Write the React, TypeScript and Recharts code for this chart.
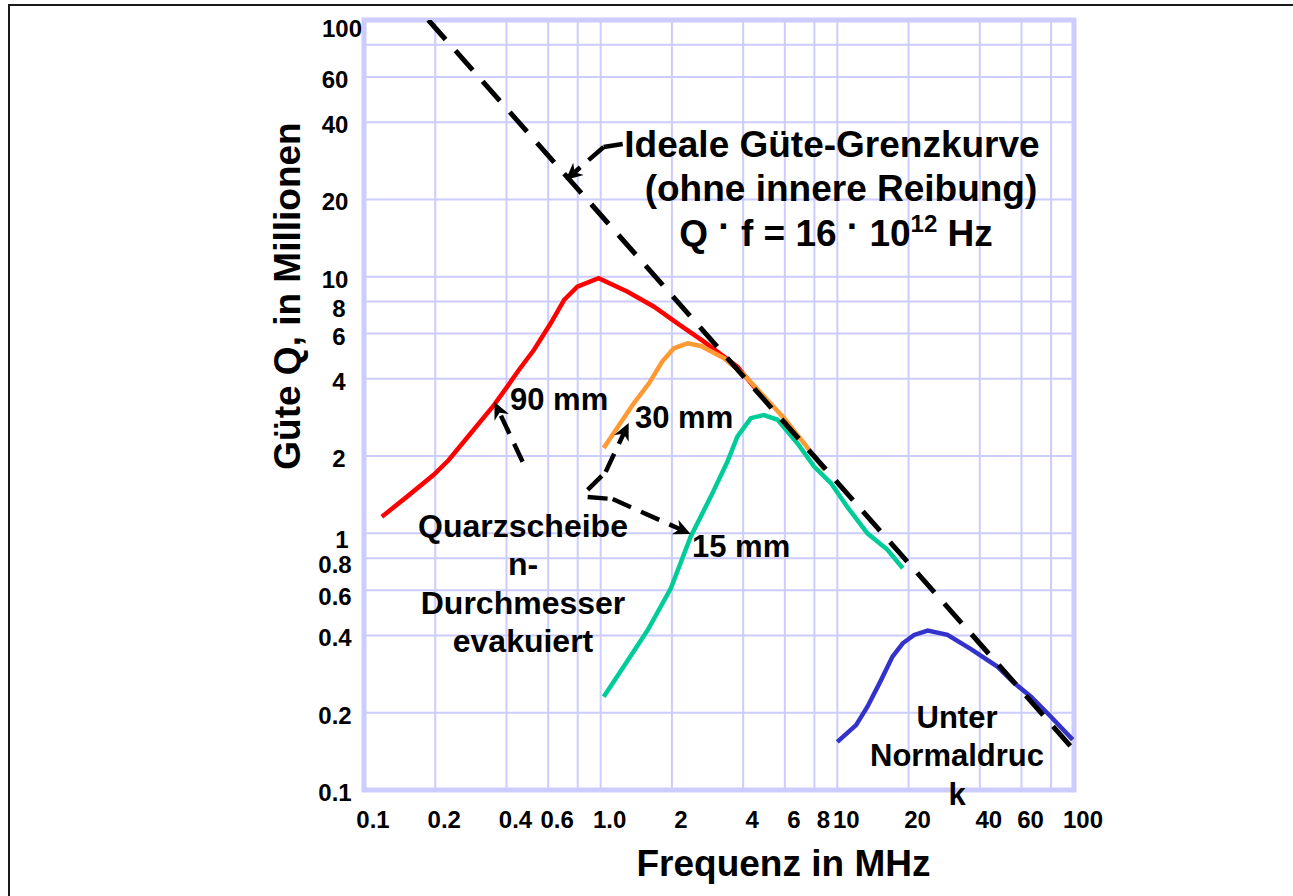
import React from 'react';
import { LineChart, Line, XAxis, YAxis, CartesianGrid, ReferenceArea, ReferenceLine } from 'recharts';

// Axis ticks
const freqTicks = [0.1, 0.2, 0.4, 0.6, 0.8, 1, 2, 4, 6, 8, 10, 20, 40, 60, 80, 100];
const freqTickLabels = ['0.1', '0.2', '0.4', '0.6', '', '1.0', '2', '4', '6', '8', '10', '20', '40', '60', '', '100'];
const qTicks = [0.1, 0.2, 0.4, 0.6, 0.8, 1, 2, 4, 6, 8, 10, 20, 40, 60, 80, 100];
const qTickLabels = ['0.1', '0.2', '0.4', '0.6', '0.8', '1', '2', '4', '6', '8', '10', '20', '40', '60', '', '100'];

// 90 mm (red)
const red90F = [0.119, 0.152, 0.197, 0.228, 0.282, 0.354, 0.403, 0.451, 0.522, 0.615, 0.70, 0.797, 0.98, 1.30, 1.68, 2.11, 2.73, 3.78, 4.75];
const red90Q = [1.16, 1.39, 1.69, 1.93, 2.45, 3.16, 3.73, 4.33, 5.18, 6.58, 8.11, 9.14, 9.86, 8.74, 7.64, 6.58, 5.58, 4.46, 3.46];
// 30 mm (orange)
const orange30F = [1.03, 1.16, 1.38, 1.60, 1.82, 2.04, 2.33, 2.65, 3.32, 4.04, 4.90, 5.96, 7.24, 8.80];
const orange30Q = [2.15, 2.53, 3.21, 3.84, 4.67, 5.26, 5.50, 5.37, 4.81, 4.14, 3.41, 2.81, 2.24, 1.77];
// 15 mm (green)
const green15F = [1.03, 1.25, 1.58, 1.98, 2.40, 2.92, 3.43, 3.78, 4.31, 4.90, 5.59, 6.79, 7.98, 9.39, 11.0, 13.4, 16.3, 18.9];
const green15Q = [0.231, 0.302, 0.42, 0.611, 0.971, 1.39, 1.90, 2.38, 2.81, 2.89, 2.77, 2.24, 1.82, 1.57, 1.27, 1.00, 0.862, 0.731];
// Unter Normaldruck (blue)
const normalF = [10.0, 12.0, 13.4, 15.3, 17.1, 18.9, 21.1, 24.1, 29.2, 36.7, 47.6, 55.9, 65.8, 79.9, 98.7];
const normalQ = [0.154, 0.179, 0.211, 0.268, 0.331, 0.373, 0.402, 0.418, 0.402, 0.354, 0.302, 0.261, 0.231, 0.193, 0.157];
// Ideal limit (dashed)
const idealF = [0.187, 100];
const idealQ = [100, 0.143];

// Annotation arrows (data coordinates), last point = arrow tip
const arrow90 = [[0.468, 1.90], [0.356, 3.25]];
const arrow30 = [[0.881, 1.476], [1.05, 1.735], [1.313, 2.69]];
const arrow15 = [[0.881, 1.386], [1.124, 1.36], [2.40, 0.995]];
const arrowIdeal = [[1.239, 32.9], [1.03, 32.0], [0.711, 23.8]];

const zip = (f: number[], q: number[]) => f.map((v, i) => ({ f: v, q: q[i] }));
const red90 = zip(red90F, red90Q);
const orange30 = zip(orange30F, orange30Q);
const green15 = zip(green15F, green15Q);
const normal = zip(normalF, normalQ);
const ideal = zip(idealF, idealQ);

const FONT = '"Liberation Sans", Arial, Helvetica, sans-serif';

const XTick = (props: any) => {
  const { x, y, payload } = props;
  const idx = freqTicks.indexOf(payload.value);
  const label = idx >= 0 ? freqTickLabels[idx] : '';
  return (
    <text x={x + 9} y={y} dy={38} textAnchor="middle" fontFamily={FONT} fontWeight="bold" fontSize={24} fill="#000">
      {label}
    </text>
  );
};

const YTick = (props: any) => {
  const { x, y, payload } = props;
  const v = payload.value;
  const idx = qTicks.indexOf(v);
  const label = idx >= 0 ? qTickLabels[idx] : '';
  let dy = 11;
  if (v === 100) dy = 17;
  if (v === 8 || v === 0.8 || v === 0.6 || v === 1) dy = 15;
  let cx = x - 29;
  if (label.length === 1) cx = x - 25;
  if (v === 1 || v === 100) cx = x - 22;
  return (
    <text x={cx} y={y} dy={dy} textAnchor="middle" fontFamily={FONT} fontWeight="bold" fontSize={24} fill="#000">
      {label}
    </text>
  );
};

const segCoords = (p: any) => {
  const x1 = p.x1 ?? p.points?.[0]?.x;
  const y1 = p.y1 ?? p.points?.[0]?.y;
  const x2 = p.x2 ?? p.points?.[1]?.x;
  const y2 = p.y2 ?? p.points?.[1]?.y;
  return { x1, y1, x2, y2 };
};

const DashSeg = (p: any) => {
  const { x1, y1, x2, y2 } = segCoords(p);
  return <line x1={x1} y1={y1} x2={x2} y2={y2} stroke="#000" strokeWidth={4.5} strokeDasharray="20 11" />;
};

const ArrowSeg = (p: any) => {
  const { x1, y1, x2, y2 } = segCoords(p);
  const dx = x2 - x1;
  const dy = y2 - y1;
  const len = Math.hypot(dx, dy) || 1;
  const ux = dx / len;
  const uy = dy / len;
  const hl = 17;
  const hw = 8;
  const bx = x2 - ux * hl;
  const by = y2 - uy * hl;
  const nx = x2 - ux * (hl * 0.7);
  const ny = y2 - uy * (hl * 0.7);
  const px = -uy;
  const py = ux;
  return (
    <g>
      <line x1={x1} y1={y1} x2={nx} y2={ny} stroke="#000" strokeWidth={4.5} strokeDasharray="20 11" />
      <polygon
        points={`${x2},${y2} ${bx + px * hw},${by + py * hw} ${nx},${ny} ${bx - px * hw},${by - py * hw}`}
        fill="#000"
      />
    </g>
  );
};

const arrowLines = (pts: number[][], key: string) =>
  pts.slice(0, -1).map((pt, i) => {
    const nxt = pts[i + 1];
    const last = i === pts.length - 2;
    return (
      <ReferenceLine
        key={`${key}-${i}`}
        segment={[{ x: pt[0], y: pt[1] }, { x: nxt[0], y: nxt[1] }]}
        ifOverflow="visible"
        stroke="#000"
        shape={last ? ArrowSeg : DashSeg}
      />
    );
  });

const txt = { fontFamily: FONT, fontWeight: 'bold' as const, fill: '#000' };

export default function App() {
  return (
    <div style={{ position: 'absolute', left: 0, top: 0, width: 1293, height: 896, background: '#fff', overflow: 'hidden' }}>
      <div
        style={{
          position: 'absolute',
          left: 8,
          top: 4,
          width: 1320,
          height: 920,
          borderTop: '2px solid #1a1a1a',
          borderLeft: '2px solid #1a1a1a',
        }}
      />
      <div style={{ position: 'absolute', left: 0, top: 0 }}>
        <LineChart width={1293} height={896} margin={{ top: 20, right: 219, bottom: 46, left: 0 }}>
          <CartesianGrid stroke="#CCCCFF" strokeWidth={2} />
          <XAxis
            dataKey="f"
            type="number"
            scale="log"
            domain={[0.1, 100]}
            ticks={freqTicks}
            interval={0}
            allowDataOverflow
            axisLine={false}
            tickLine={false}
            tickSize={0}
            tickMargin={0}
            height={60}
            tick={<XTick />}
          />
          <YAxis
            dataKey="q"
            type="number"
            scale="log"
            domain={[0.1, 100]}
            ticks={qTicks}
            interval={0}
            allowDataOverflow
            axisLine={false}
            tickLine={false}
            tickSize={0}
            tickMargin={0}
            width={364}
            tick={<YTick />}
          />
          <ReferenceArea x1={0.1} x2={100} y1={0.1} y2={100} fill="none" stroke="#CCCCFF" strokeWidth={5} fillOpacity={0} />
          <Line data={red90} dataKey="q" stroke="#FF0000" strokeWidth={4.5} dot={false} isAnimationActive={false} type="linear" />
          <Line data={green15} dataKey="q" stroke="#00CC99" strokeWidth={4.5} dot={false} isAnimationActive={false} type="linear" />
          <Line data={orange30} dataKey="q" stroke="#FF9933" strokeWidth={4.5} dot={false} isAnimationActive={false} type="linear" />
          <Line data={normal} dataKey="q" stroke="#3333CC" strokeWidth={4.5} dot={false} isAnimationActive={false} type="linear" />
          <Line
            data={ideal}
            dataKey="q"
            stroke="#000"
            strokeWidth={5}
            strokeDasharray="26 15"
            dot={false}
            isAnimationActive={false}
            type="linear"
          />
          {arrowLines(arrow90, 'a90')}
          {arrowLines(arrow30, 'a30')}
          {arrowLines(arrow15, 'a15')}
          {arrowLines(arrowIdeal, 'aid')}
        </LineChart>
      </div>
      <svg width={1293} height={896} style={{ position: 'absolute', left: 0, top: 0, pointerEvents: 'none' }}>
        <text {...txt} fontSize={37} textAnchor="middle" transform="translate(300,296) rotate(-90)">
          Güte Q, in Millionen
        </text>
        <text {...txt} fontSize={37} textAnchor="middle" x={783.5} y={876}>
          Frequenz in MHz
        </text>
        <text {...txt} fontSize={37} textAnchor="middle" x={832} y={157}>
          Ideale Güte-Grenzkurve
        </text>
        <text {...txt} fontSize={37} textAnchor="middle" x={841} y={201}>
          (ohne innere Reibung)
        </text>
        <text {...txt} fontSize={37} textAnchor="middle" x={836} y={246}>
          <tspan>Q </tspan>
          <tspan dy={-7}>·</tspan>
          <tspan dy={7}> f = 16 </tspan>
          <tspan dy={-7}>·</tspan>
          <tspan dy={7}> 10</tspan>
          <tspan dy={-14} fontSize={24}>12</tspan>
          <tspan dy={14}> Hz</tspan>
        </text>
        <text {...txt} fontSize={31} x={510} y={410}>90 mm</text>
        <text {...txt} fontSize={31} x={635} y={428}>30 mm</text>
        <text {...txt} fontSize={31} x={692} y={557}>15 mm</text>
        <text {...txt} fontSize={32} textAnchor="middle" x={523} y={537}>Quarzscheibe</text>
        <text {...txt} fontSize={32} textAnchor="middle" x={523} y={575}>n-</text>
        <text {...txt} fontSize={32} textAnchor="middle" x={523} y={614}>Durchmesser</text>
        <text {...txt} fontSize={32} textAnchor="middle" x={523} y={652}>evakuiert</text>
        <text {...txt} fontSize={31} textAnchor="middle" x={957} y={728}>Unter</text>
        <text {...txt} fontSize={31} textAnchor="middle" x={957} y={766}>Normaldruc</text>
        <text {...txt} fontSize={31} textAnchor="middle" x={957} y={805}>k</text>
      </svg>
    </div>
  );
}
